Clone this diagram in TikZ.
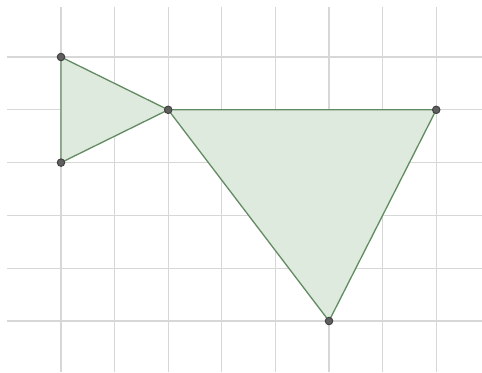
\documentclass[tikz,border=0pt]{standalone}
\usetikzlibrary{positioning}
\definecolor{gridgray}{RGB}{215,215,215}
\definecolor{edgegreen}{RGB}{100,140,100}
\definecolor{fillgreen}{RGB}{222,234,222}
\definecolor{dotgray}{RGB}{95,95,95}

\tikzset{
    gridline/.style={draw=gridgray, line width=0.6pt},
    tri/.style={draw=edgegreen, fill=fillgreen, line width=0.7pt, line join=round},
    vertex/.style={circle, draw=black!75, fill=dotgray, line width=0.5pt, inner sep=0pt, minimum size=4pt}
}

\begin{document}
\begin{tikzpicture}[x=1cm, y=0.985cm]
    \useasboundingbox (-1.138,-0.966) rectangle (7.854,6.080);
    % grid
    \foreach \i in {0,...,7}
        \draw[gridline] (\i,-0.966) -- (\i,5.947);
    \foreach \j in {0,...,5}
        \draw[gridline] (-1.0,\j) -- (7.854,\j);
    % points
    \coordinate (A) at (0,5);
    \coordinate (B) at (0,3);
    \coordinate (C) at (2,4);
    \coordinate (D) at (7,4);
    \coordinate (E) at (5,0);
    % triangles
    \filldraw[tri] (A) -- (B) -- (C) -- cycle;
    \filldraw[tri] (C) -- (D) -- (E) -- cycle;
    % vertices
    \foreach \p in {A,B,C,D,E}
        \node[vertex] (v\p) at (\p) {};
\end{tikzpicture}
\end{document}
